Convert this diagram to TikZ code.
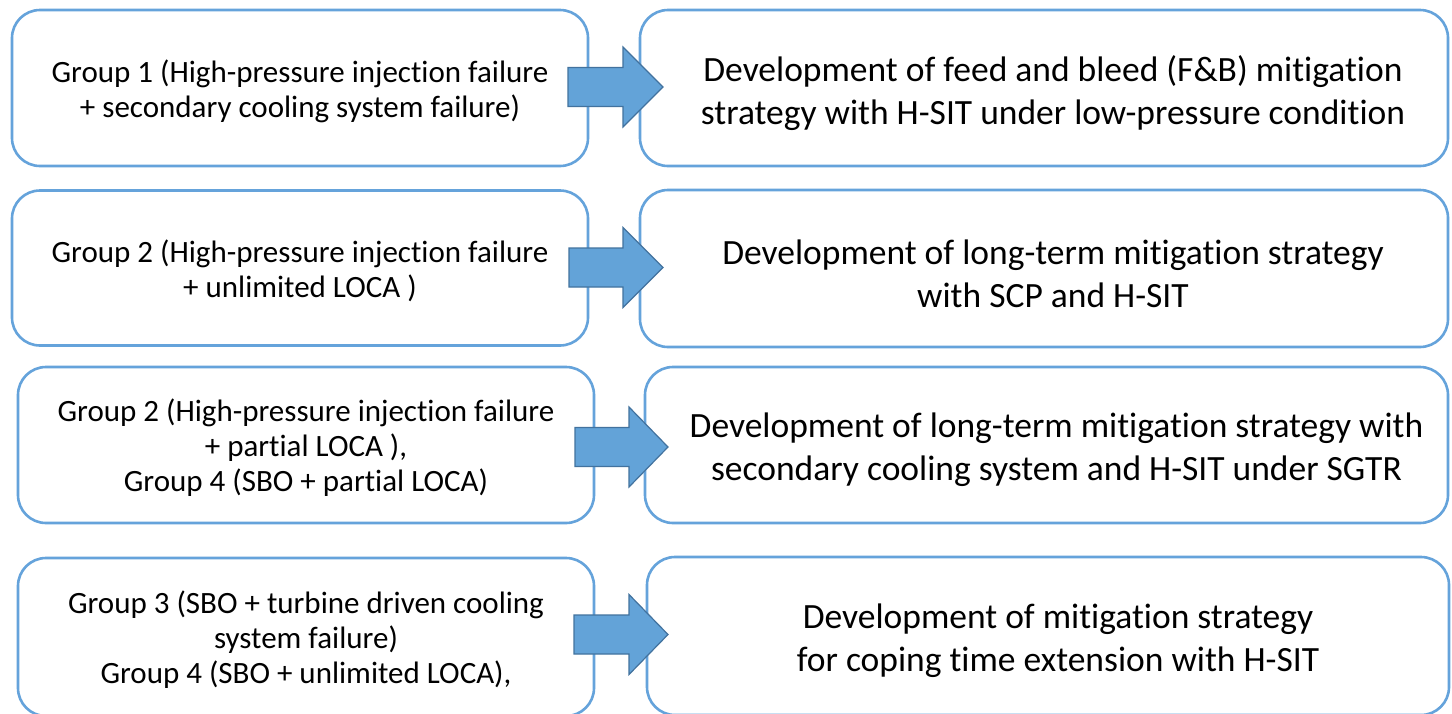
\documentclass[tikz,border=0pt]{standalone}
\usepackage{fontspec}
\setmainfont{Carlito}[Ligatures=NoCommon]
\definecolor{boxline}{RGB}{101,163,219}
\definecolor{arrowfill}{RGB}{99,163,216}
\definecolor{arrowline}{RGB}{66,114,158}
\tikzset{
  framebox/.style={draw=boxline, line width=2.6pt, rounded corners=28pt, fill=white, inner sep=0pt},
  casetext/.style={align=center, font=\fontsize{31}{35}\selectfont, inner sep=0pt},
  goaltext/.style={align=center, font=\fontsize{35.5}{43}\selectfont, inner sep=0pt},
  blockarrow/.style={fill=arrowfill, draw=arrowline, line width=1.2pt, line join=miter}
}
% block arrow: #1 = shaft start x, #2 = head base x, #3 = tip x, #4 = centre y
\newcommand{\blockarrowat}[4]{%
  \draw[blockarrow] (#1,#4-19.5) -- (#2,#4-19.5) -- (#2,#4-40) -- (#3,#4)
    -- (#2,#4+40) -- (#2,#4+19.5) -- (#1,#4+19.5) -- cycle;}
\begin{document}
\begin{tikzpicture}[x=1pt,y=-1pt]
\useasboundingbox (0,0) rectangle (1452,713);
\clip (0,0) rectangle (1452,713);
\fill[white] (0,0) rectangle (1452,713);

% frames
\node[framebox, minimum width=576pt, minimum height=156pt] (c1) at (300,88) {};
\node[framebox, minimum width=808pt, minimum height=156pt] (g1) at (1044,88) {};
\node[framebox, minimum width=576pt, minimum height=155pt] (c2) at (300,268) {};
\node[framebox, minimum width=808pt, minimum height=157pt] (g2) at (1044,268.5) {};
\node[framebox, minimum width=576pt, minimum height=156pt] (c3) at (306,445) {};
\node[framebox, minimum width=803pt, minimum height=156pt] (g3) at (1046.5,445) {};
\node[framebox, minimum width=576pt, minimum height=158pt] (c4) at (306,637) {};
\node[framebox, minimum width=802pt, minimum height=158pt] (g4) at (1048,636) {};

% texts
\node[casetext] (t1) at ([shift={(0,3)}]c1.center)
  {Group 1 (High-pressure injection failure\\+ secondary cooling system failure)};
\node[goaltext] (u1) at ([shift={(9,5)}]g1.center)
  {Development of feed and bleed (F\&B) mitigation\\strategy with H-SIT under low-pressure condition};
\node[casetext] (t2) at ([shift={(0,3)}]c2.center)
  {Group 2 (High-pressure injection failure\\+ unlimited LOCA )};
\node[goaltext] (u2) at ([shift={(9,5)}]g2.center)
  {Development of long-term mitigation strategy\\with SCP and H-SIT};
\node[casetext] (t3) at ([shift={(0,3)}]c3.center)
  {Group 2 (High-pressure injection failure\\+ partial LOCA ),\\Group 4 (SBO + partial LOCA)};
\node[goaltext] (u3) at ([shift={(10,5)}]g3.center)
  {Development of long-term mitigation strategy with\\secondary cooling system and H-SIT under SGTR};
\node[casetext] (t4) at ([shift={(0,3)}]c4.center)
  {Group 3 (SBO + turbine driven cooling\\system failure)\\Group 4 (SBO + unlimited LOCA),};
\node[goaltext] (u4) at ([shift={(10,5)}]g4.center)
  {Development of mitigation strategy\\for coping time extension with H-SIT};

% block arrows between the columns
\blockarrowat{568}{623}{663}{87}
\blockarrowat{569}{623}{663}{267.5}
\blockarrowat{575}{629}{668}{447}
\blockarrowat{574}{629}{668}{634.5}
\end{tikzpicture}
\end{document}
